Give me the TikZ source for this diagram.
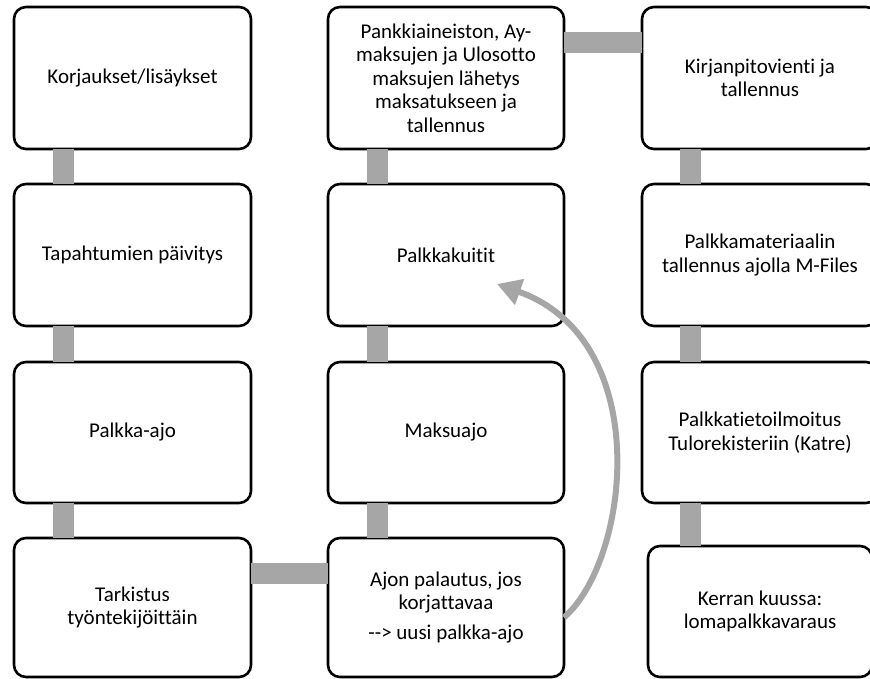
\documentclass[tikz,border=0pt]{standalone}
\usepackage{fontspec}
\setmainfont{Carlito}[Ligatures={NoCommon,NoRequired,NoContextual}]
\usetikzlibrary{arrows.meta}
\definecolor{bargray}{HTML}{A6A6A6}
\tikzset{
  box/.style={draw=black, line width=2.6pt, rounded corners=12pt, fill=white,
    align=center, inner sep=0pt, outer sep=0pt,
    font=\fontsize{21}{23.4}\selectfont},
  bar/.style={draw=bargray, line width=21pt},
  loop/.style={draw=bargray, line width=6pt, -{Triangle[length=24pt,width=26pt]}}
}
\begin{document}
\begin{tikzpicture}[x=1pt,y=-1pt]
\useasboundingbox (0,0) rectangle (870,679);
\clip (0,0) rectangle (870,679);
% column 1
\node[box, minimum width=237pt, minimum height=142pt] (k1) at (132.5,78) {Korjaukset/lisäykset};
\node[box, minimum width=237pt, minimum height=142pt] (k2) at (132.5,255) {Tapahtumien päivitys};
\node[box, minimum width=237pt, minimum height=141pt] (k3) at (132.5,432.5) {Palkka-ajo};
\node[box, minimum width=237pt, minimum height=139pt] (k4) at (132.5,607.5) {Tarkistus\\työntekijöittäin};
% column 2
\node[box, minimum width=236pt, minimum height=142pt] (m1) at (446,78) {Pankkiaineiston, Ay-\\maksujen ja Ulosotto\\maksujen lähetys\\maksatukseen ja\\tallennus};
\node[box, minimum width=236pt, minimum height=142pt] (m2) at (446,255) {Palkkakuitit};
\node[box, minimum width=236pt, minimum height=141pt] (m3) at (446,432.5) {Maksuajo};
\node[box, minimum width=236pt, minimum height=139pt] (m4) at (446,607.5) {Ajon palautus, jos\\korjattavaa\\[7pt]-{}-{}> uusi palkka-ajo};
% column 3
\node[box, minimum width=236pt, minimum height=142pt] (r1) at (760,78) {Kirjanpitovienti ja\\tallennus};
\node[box, minimum width=236pt, minimum height=142pt] (r2) at (760,255) {Palkkamateriaalin\\tallennus ajolla M-Files};
\node[box, minimum width=236pt, minimum height=141pt] (r3) at (760,432.5) {Palkkatietoilmoitus\\Tulorekisteriin (Katre)};
\node[box, minimum width=224pt, minimum height=131pt] (r4) at (760,611.5) {Kerran kuussa:\\lomapalkkavaraus};
% connectors
\draw[bar] ([xshift=49pt]k1.south west) -- ([xshift=49pt]k2.north west);
\draw[bar] ([xshift=49pt]k2.south west) -- ([xshift=49pt]k3.north west);
\draw[bar] ([xshift=49pt]k3.south west) -- ([xshift=49pt]k4.north west);
\draw[bar] ([yshift=-35pt]k4.north east) -- ([yshift=-35pt]m4.north west);
\draw[bar] ([xshift=49.5pt]m4.north west) -- ([xshift=49.5pt]m3.south west);
\draw[bar] ([xshift=49.5pt]m3.north west) -- ([xshift=49.5pt]m2.south west);
\draw[bar] ([xshift=49.5pt]m2.north west) -- ([xshift=49.5pt]m1.south west);
\draw[bar] ([yshift=-35.5pt]m1.north east) -- ([yshift=-35.5pt]r1.north west);
\draw[bar] ([xshift=48.5pt]r1.south west) -- ([xshift=48.5pt]r2.north west);
\draw[bar] ([xshift=48.5pt]r2.south west) -- ([xshift=48.5pt]r3.north west);
\draw[bar] ([xshift=48.5pt]r3.south west) -- ([xshift=42.5pt]r4.north west);
% loop arrow
\coordinate (tip) at (497,284);
\draw[loop] ([yshift=-10pt]m4.east) .. controls (630,560) and (655,340) .. (tip);
\end{tikzpicture}
\end{document}
